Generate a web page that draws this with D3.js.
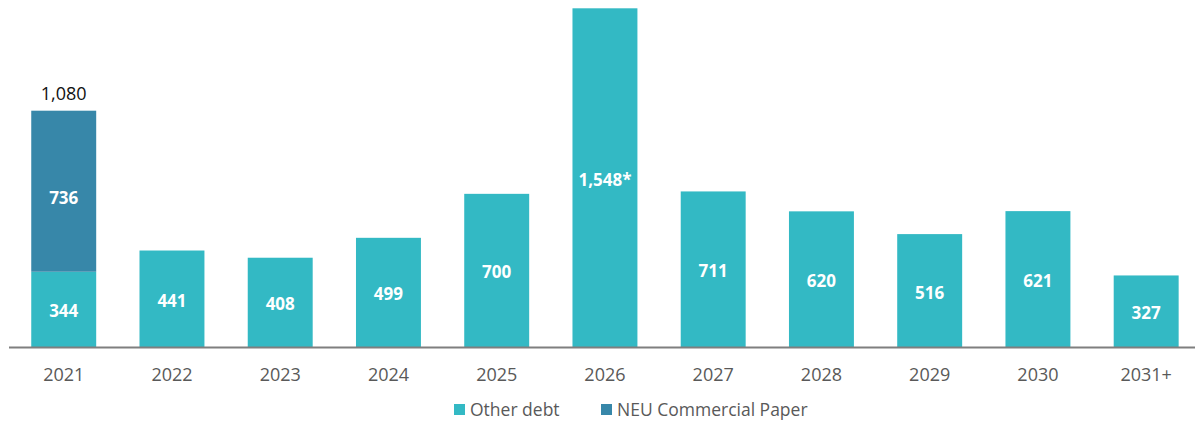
<!DOCTYPE html>
<html><head><meta charset="utf-8">
<script src="https://cdn.jsdelivr.net/npm/d3@7"></script>
<style>body{margin:0;background:#fff;} svg{display:block;}</style>
</head><body>
<svg id="chart" width="1195" height="423"></svg>
<script>
const categories = ["2021","2022","2023","2024","2025","2026","2027","2028","2029","2030","2031+"];
const otherDebt = [344,441,408,499,700,1548,711,620,516,621,327];
const neuCP = [736,0,0,0,0,0,0,0,0,0,0];
const valueLabels = ["344","441","408","499","700","1,548*","711","620","516","621","327"];
const cpLabels = ["736","","","","","","","","","",""];
const totalLabels = ["1,080","","","","","","","","","",""];
const seriesNames = ["Other debt","NEU Commercial Paper"];
const colors = ["#33B9C4","#3787A9"];

const svg = d3.select("#chart");
const font = "'Open Sans', 'Noto Sans', sans-serif";
const baseY = 347;
const x = d3.scaleBand().domain(categories).range([9.6, 1200.3]).paddingInner(0.4).paddingOuter(0.2);
const y = d3.scaleLinear().domain([0, 1548]).range([baseY, 8.3]);

const g = svg.append("g");
categories.forEach((c, i) => {
  const o = otherDebt[i], p = neuCP[i];
  g.append("rect").attr("x", x(c)).attr("width", x.bandwidth())
    .attr("y", y(o)).attr("height", y(0) - y(o)).attr("fill", colors[0]);
  g.append("text").attr("x", x(c) + x.bandwidth()/2).attr("y", (y(o)+y(0))/2 + 2)
    .attr("dy", "0.35em").attr("text-anchor", "middle").attr("fill", "#fff")
    .attr("font-family", font).attr("font-weight", "bold").attr("font-size", 17)
    .text(valueLabels[i]);
  if (p > 0) {
    g.append("rect").attr("x", x(c)).attr("width", x.bandwidth())
      .attr("y", y(o + p)).attr("height", y(o) - y(o + p)).attr("fill", colors[1]);
    g.append("text").attr("x", x(c) + x.bandwidth()/2).attr("y", (y(o+p)+y(o))/2 + 7)
      .attr("dy", "0.35em").attr("text-anchor", "middle").attr("fill", "#fff")
      .attr("font-family", font).attr("font-weight", "bold").attr("font-size", 17)
      .text(cpLabels[i]);
    g.append("text").attr("x", x(c) + x.bandwidth()/2).attr("y", y(o+p) - 17)
      .attr("dy", "0.35em").attr("text-anchor", "middle").attr("fill", "#111")
      .attr("font-family", font).attr("font-size", 18)
      .text(totalLabels[i]);
  }
});

const axis = svg.append("g").attr("transform", `translate(0,${baseY})`)
  .call(d3.axisBottom(x).tickSize(0).tickPadding(21));
axis.select(".domain").remove();
axis.append("line").attr("x1", 9).attr("x2", 1195).attr("y1", 0.5).attr("y2", 0.5)
  .attr("stroke", "#7f7f7f").attr("stroke-width", 2);
axis.selectAll(".tick text").attr("font-family", font).attr("font-size", 18).attr("fill", "#595959");

const legend = svg.append("g");
const lx = [454, 601];
seriesNames.forEach((n, i) => {
  legend.append("rect").attr("x", lx[i]).attr("y", 404).attr("width", 11).attr("height", 11).attr("fill", colors[i]);
  legend.append("text").attr("x", lx[i] + 16).attr("y", 410).attr("dy", "0.35em")
    .attr("font-family", font).attr("font-size", 17.5).attr("fill", "#595959").text(n);
});
</script>
</body></html>
